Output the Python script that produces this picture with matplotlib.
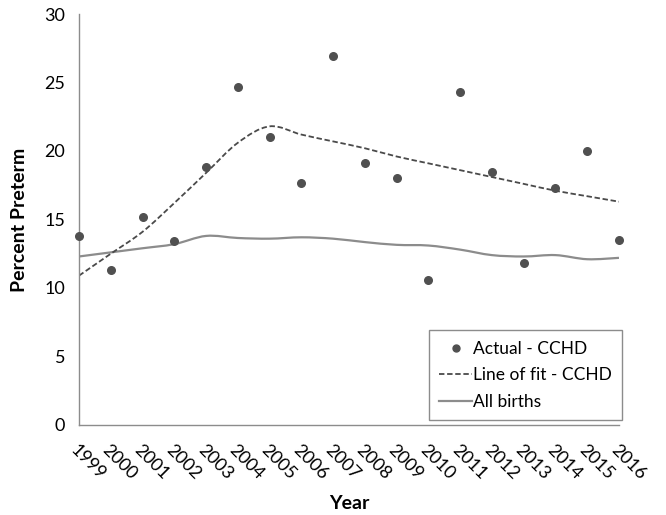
import numpy as np
import matplotlib
matplotlib.use("Agg")
import matplotlib.pyplot as plt
from matplotlib.path import Path
from matplotlib.patches import PathPatch
from matplotlib.lines import Line2D

plt.rcParams['font.family'] = ['Lato', 'DejaVu Sans']

years = list(range(1999, 2017))
actual_cchd = [13.8, 11.3, 15.2, 13.4, 18.8, 24.7, 21.0, 17.7, 26.9,
               19.1, 18.0, 10.6, 24.3, 18.5, 11.8, 17.3, 20.0, 13.5]
fit_cchd = [10.9, 12.5, 14.1, 16.2, 18.4, 20.6, 21.8, 21.2, 20.7,
            20.2, 19.6, 19.1, 18.6, 18.1, 17.6, 17.1, 16.7, 16.3]
all_births = [12.3, 12.6, 12.9, 13.2, 13.8, 13.65, 13.6, 13.7, 13.6,
              13.35, 13.15, 13.1, 12.8, 12.4, 12.3, 12.4, 12.1, 12.2]


def smooth_path(x, y):
    # Excel-style smoothed line: Catmull-Rom segments as cubic Beziers
    pts = np.column_stack([x, y]).astype(float)
    ext = np.vstack([pts[0], pts, pts[-1]])
    verts = [pts[0]]
    codes = [Path.MOVETO]
    for k in range(len(pts) - 1):
        p0, p1, p2, p3 = ext[k], ext[k + 1], ext[k + 2], ext[k + 3]
        verts += [p1 + (p2 - p0) / 6, p2 - (p3 - p1) / 6, p2]
        codes += [Path.CURVE4] * 3
    return Path(verts, codes)


fig = plt.figure(figsize=(6.66, 5.15), dpi=100)
ax = fig.add_axes([0.1186, 0.1748, 0.8108, 0.798])

ax.add_patch(PathPatch(smooth_path(years, all_births), fill=False,
                       edgecolor='#8c8c8c', lw=1.6))
ax.add_patch(PathPatch(smooth_path(years, fit_cchd), fill=False,
                       edgecolor='#4a4a4a', lw=1.3, linestyle=(0, (3, 1.5))))
ax.scatter(years, actual_cchd, s=30, color='#505050', zorder=3, clip_on=False)

ax.set_xlim(1999, 2016)
ax.set_ylim(0, 30)
ax.set_yticks(range(0, 31, 5))
ax.set_xticks(years)
ax.set_xticklabels([str(y) for y in years], rotation=-45, ha='left',
                   va='top', rotation_mode='anchor', fontsize=13)
ax.tick_params(axis='y', labelsize=13, length=0, pad=10)
ax.tick_params(axis='x', length=0, pad=12)

for s in ['top', 'right']:
    ax.spines[s].set_visible(False)
for s in ['left', 'bottom']:
    ax.spines[s].set_color('#8c8c8c')
    ax.spines[s].set_linewidth(1.0)

ax.set_ylabel('Percent Preterm', fontsize=14, fontweight='bold', labelpad=12)
ax.set_xlabel('Year', fontsize=14, fontweight='bold', labelpad=9)

handles = [
    Line2D([], [], marker='o', color='#505050', linestyle='none', markersize=5),
    Line2D([], [], color='#4a4a4a', lw=1.3, linestyle=(0, (3, 1.5))),
    Line2D([], [], color='#8c8c8c', lw=1.6),
]
leg = ax.legend(handles, ['Actual - CCHD', 'Line of fit - CCHD', 'All births'],
                loc='lower right', bbox_to_anchor=(1.006, 0.012),
                borderaxespad=0, fontsize=12.5,
                fancybox=False, edgecolor='#8c8c8c', framealpha=1,
                handlelength=1.9, handletextpad=0.05, borderpad=0.6,
                labelspacing=0.6)
leg.get_frame().set_linewidth(1.0)

fig.savefig('out.png', dpi=100)
